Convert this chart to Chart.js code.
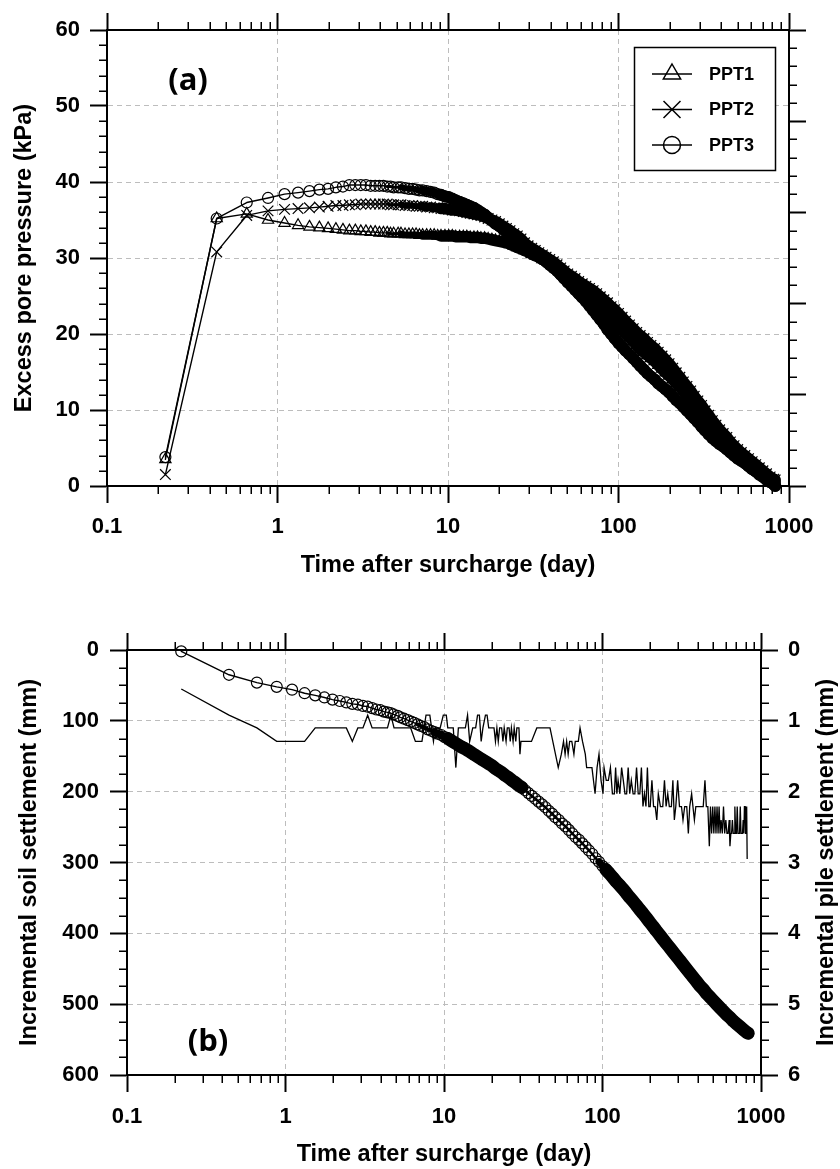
<!DOCTYPE html>
<html>
<head>
<meta charset="utf-8">
<script src="https://cdn.jsdelivr.net/npm/chart.js@4.4.1/dist/chart.umd.min.js"></script>
<style>
  html, body { margin: 0; padding: 0; background: #fff; }
  #wrap { position: relative; width: 840px; height: 1169px; }
  canvas { position: absolute; left: 0; }
  #pressure { top: 0; }
  #settlement { top: 590px; }
</style>
</head>
<body>
<div id="wrap">
  <canvas id="pressure" width="840" height="590"></canvas>
  <canvas id="settlement" width="840" height="579"></canvas>
</div>
<script>
// time after surcharge (day), shared by the pore pressure and soil settlement records
const days = [
  0.22, 0.44, 0.66, 0.88, 1.1, 1.32, 1.54, 1.76, 1.98, 2.2,
  2.42, 2.64, 2.86, 3.08, 3.3, 3.52, 3.74, 3.96, 4.18, 4.4,
  4.6, 4.8, 5.1, 5.3, 5.6, 5.9, 6.2, 6.5, 6.8, 7.1,
  7.5, 7.9, 8.3, 8.7, 9.1, 9.6, 10.1, 10.6, 11.1, 11.7,
  12.3, 12.9, 13.5, 14.2, 14.9, 15.6, 16.4, 17.2, 18.1, 19.0,
  20, 21, 22, 23.1, 24.3, 25.5, 26.8, 28.1, 29.5, 31,
  32.5, 34.1, 35.8, 37.6, 39.5, 41.5, 43.6, 45.8, 48, 50.4,
  53, 55.6, 58.4, 61.3, 64.4, 67.6, 71, 74.5, 78.2, 82.1,
  86.2, 90.5, 95, 100, 105, 110, 116, 122, 128, 134,
  141, 148, 155, 163, 171, 180, 189, 198, 208, 218,
  229, 240, 252, 265, 278, 292, 307, 322, 338, 355,
  373, 392, 411, 432, 453, 476, 500, 525, 551, 579,
  608, 638, 670, 703, 738, 775, 814, 830
];

// excess pore pressure (kPa)
const ppt1 = [
  3.5, 35.2, 35.8, 35.0, 34.6, 34.3, 34.1, 34.0, 33.9, 33.8,
  33.7, 33.6, 33.6, 33.5, 33.5, 33.4, 33.4, 33.3, 33.3, 33.3,
  33.2, 33.2, 33.2, 33.2, 33.1, 33.1, 33.1, 33.1, 33.0, 33.0,
  33.0, 33.0, 33.0, 32.9, 32.9, 32.9, 32.9, 32.9, 32.8, 32.8,
  32.8, 32.8, 32.7, 32.7, 32.7, 32.6, 32.6, 32.5, 32.4, 32.3,
  32.2, 32.1, 32.0, 31.8, 31.6, 31.4, 31.2, 31.0, 30.8, 30.5,
  30.3, 30.1, 29.8, 29.6, 29.3, 29.0, 28.6, 28.2, 27.8, 27.4,
  27.0, 26.6, 26.2, 25.8, 25.4, 25.0, 24.6, 24.1, 23.6, 23.1,
  22.6, 22.1, 21.6, 21.0, 20.5, 20.0, 19.5, 19.0, 18.5, 18.0,
  17.6, 17.2, 16.8, 16.4, 15.9, 15.4, 14.9, 14.5, 14.0, 13.5,
  13.0, 12.5, 11.9, 11.4, 10.8, 10.3, 9.7, 9.1, 8.6, 8.0,
  7.5, 6.9, 6.5, 6.0, 5.5, 5.0, 4.5, 4.1, 3.7, 3.3,
  2.9, 2.5, 2.1, 1.7, 1.3, 1.0, 0.7, 0.5
];
const ppt2 = [
  1.5, 30.8, 35.6, 36.2, 36.4, 36.5, 36.6, 36.7, 36.8, 36.9,
  36.9, 37.0, 37.0, 37.1, 37.1, 37.1, 37.1, 37.1, 37.1, 37.1,
  37.0, 37.0, 37.0, 37.0, 36.9, 36.9, 36.9, 36.8, 36.8, 36.8,
  36.7, 36.7, 36.6, 36.6, 36.5, 36.5, 36.4, 36.3, 36.3, 36.2,
  36.1, 36.0, 35.9, 35.8, 35.7, 35.6, 35.4, 35.2, 35.0, 34.8,
  34.5, 34.2, 33.9, 33.6, 33.2, 32.9, 32.5, 32.0, 31.6, 31.3,
  31.0, 30.7, 30.4, 30.1, 29.8, 29.5, 29.1, 28.7, 28.3, 27.9,
  27.6, 27.3, 26.9, 26.6, 26.3, 26.0, 25.7, 25.3, 24.9, 24.5,
  24.1, 23.6, 23.2, 22.7, 22.2, 21.7, 21.2, 20.7, 20.2, 19.8,
  19.4, 18.9, 18.5, 18.1, 17.6, 17.1, 16.6, 16.1, 15.5, 14.9,
  14.3, 13.7, 13.1, 12.5, 11.8, 11.2, 10.6, 9.9, 9.3, 8.6,
  8.0, 7.4, 6.9, 6.4, 5.8, 5.3, 4.8, 4.4, 4.0, 3.6,
  3.2, 2.8, 2.4, 2.0, 1.6, 1.2, 0.9, 0.8
];
const ppt3 = [
  3.8, 35.2, 37.3, 37.9, 38.4, 38.6, 38.8, 39.0, 39.1, 39.3,
  39.4, 39.6, 39.6, 39.6, 39.6, 39.5, 39.5, 39.5, 39.5, 39.4,
  39.4, 39.3, 39.3, 39.3, 39.2, 39.1, 39.1, 39.0, 38.9, 38.9,
  38.8, 38.7, 38.6, 38.4, 38.3, 38.1, 38.0, 37.8, 37.6, 37.4,
  37.2, 37.0, 36.8, 36.6, 36.3, 36.0, 35.7, 35.3, 34.9, 34.5,
  34.2, 33.8, 33.4, 33.0, 32.7, 32.3, 32.0, 31.7, 31.3, 31.0,
  30.7, 30.3, 29.9, 29.5, 29.1, 28.7, 28.3, 27.8, 27.3, 26.8,
  26.3, 25.8, 25.3, 24.8, 24.3, 23.7, 23.1, 22.5, 21.9, 21.3,
  20.6, 20.0, 19.4, 18.8, 18.3, 17.8, 17.3, 16.8, 16.3, 15.8,
  15.3, 14.8, 14.4, 14.0, 13.5, 13.1, 12.7, 12.3, 11.8, 11.3,
  10.9, 10.4, 9.9, 9.4, 8.9, 8.4, 7.8, 7.3, 6.8, 6.3,
  5.9, 5.5, 5.2, 4.8, 4.4, 4.0, 3.6, 3.3, 3.0, 2.6,
  2.2, 1.9, 1.5, 1.2, 0.8, 0.5, 0.2, 0.0
];

// incremental soil settlement (mm)
const soilMm = [
  2, 35, 46, 52, 56, 61, 64, 67, 70, 72,
  74, 76, 77, 79, 80, 82, 84, 85, 87, 88,
  89, 91, 93, 95, 97, 99, 101, 103, 105, 107,
  109, 112, 114, 116, 118, 120, 123, 125, 128, 131,
  134, 137, 139, 142, 145, 148, 151, 154, 157, 160,
  163, 167, 170, 173, 177, 180, 184, 187, 191, 194,
  198, 202, 206, 210, 214, 218, 222, 227, 231, 236,
  240, 245, 249, 254, 259, 264, 268, 273, 278, 283,
  288, 294, 299, 305, 310, 315, 321, 327, 332, 337,
  343, 349, 354, 360, 366, 372, 378, 384, 390, 396,
  402, 408, 414, 420, 426, 432, 438, 444, 450, 456,
  462, 468, 474, 479, 485, 490, 495, 500, 505, 510,
  515, 519, 524, 528, 532, 536, 540, 541
];

// incremental pile settlement (mm)
const pileDays = [
  0.22, 0.44, 0.66, 0.88, 1.32, 1.54, 2.42, 2.64, 2.86, 3.08,
  3.3, 3.52, 4.4, 4.62, 4.84, 6.16, 6.6, 7.26, 7.7, 8.14,
  8.58, 8.8, 9.46, 9.9, 10.34, 10.56, 11.44, 11.88, 12.32, 13.64,
  14.08, 14.52, 15.18, 15.84, 16.28, 16.72, 17.16, 17.6, 18.26, 18.7,
  19.14, 20.68, 21.12, 21.56, 22.0, 22.44, 23.1, 23.54, 23.98, 24.64,
  25.08, 25.74, 26.18, 26.62, 27.28, 27.72, 28.38, 28.82, 29.7, 30.14,
  30.58, 35.64, 38.5, 46.64, 52.58, 55.0, 56.76, 58.08, 59.4, 60.72,
  62.04, 64.02, 66.0, 67.32, 70.4, 72.16, 74.8, 77.88, 79.42, 85.8,
  89.76, 92.4, 95.04, 97.9, 100.76, 102.3, 105.6, 108.9, 112.2, 115.5,
  118.8, 121.0, 123.2, 125.4, 128.7, 132.0, 135.3, 138.6, 142.0, 145.2,
  148.5, 152, 156, 160, 164, 168, 172, 176, 180, 184,
  188, 192, 196, 200, 205, 210, 215, 220, 225, 232,
  240, 246, 252, 258, 264, 272, 278, 284, 290, 298,
  306, 315, 322, 330, 340, 348, 355, 365, 372, 380,
  388, 400, 410, 420, 432, 443, 452, 462, 472, 480,
  488, 496, 504, 512, 520, 528, 536, 544, 552, 560,
  570, 580, 590, 600, 610, 620, 630, 637, 645, 652,
  660, 668, 676, 684, 692, 700, 708, 716, 724, 732,
  740, 748, 756, 764, 772, 780, 786, 794, 800, 806,
  812, 818
];
const pileMm = [
  0.55, 0.92, 1.10, 1.29, 1.29, 1.10, 1.10, 1.29, 1.10, 1.10,
  0.92, 1.10, 1.10, 0.92, 1.10, 1.10, 1.29, 1.29, 0.92, 0.92,
  1.29, 1.10, 1.10, 0.92, 0.92, 1.10, 1.10, 1.66, 1.10, 1.10,
  0.92, 1.29, 1.10, 1.10, 0.92, 0.92, 1.29, 1.10, 0.92, 0.92,
  1.10, 1.10, 1.29, 1.10, 1.29, 1.10, 1.10, 1.29, 1.10, 1.29,
  1.10, 1.10, 1.29, 1.10, 1.29, 1.10, 1.29, 1.10, 1.10, 1.47,
  1.29, 1.29, 1.10, 1.10, 1.66, 1.47, 1.29, 1.47, 1.29, 1.47,
  1.29, 1.29, 1.47, 1.29, 1.29, 1.10, 1.29, 1.47, 1.66, 1.66,
  2.03, 1.66, 1.47, 1.84, 2.03, 1.66, 1.84, 1.84, 1.66, 2.03,
  2.03, 1.66, 2.03, 1.84, 2.03, 1.66, 1.84, 2.03, 2.03, 1.66,
  2.03, 1.84, 2.03, 2.03, 1.66, 2.03, 2.03, 1.66, 2.21, 2.03,
  2.21, 1.66, 2.21, 2.21, 1.84, 2.21, 2.21, 2.40, 2.03, 2.21,
  2.21, 1.84, 2.21, 2.03, 2.21, 2.21, 1.84, 2.40, 2.21, 1.84,
  2.21, 2.21, 2.40, 2.21, 2.21, 2.59, 2.21, 2.03, 2.21, 2.40,
  2.21, 2.21, 2.21, 2.21, 2.21, 1.84, 2.21, 2.21, 2.77, 2.21,
  2.59, 2.21, 2.59, 2.21, 2.59, 2.21, 2.59, 2.21, 2.59, 2.40,
  2.59, 2.21, 2.59, 2.40, 2.59, 2.59, 2.40, 2.77, 2.59, 2.59,
  2.40, 2.59, 2.59, 2.21, 2.59, 2.59, 2.21, 2.59, 2.59, 2.59,
  2.21, 2.59, 2.59, 2.59, 2.40, 2.59, 2.21, 2.21, 2.59, 2.59,
  2.21, 2.95
];

// axis ticks
const xMajor = [0.1, 1, 10, 100, 1000];
const xTickLabels = ['0.1', '1', '10', '100', '1000'];
const pressureTicks = [0, 10, 20, 30, 40, 50, 60];
const pressureRightTicks = [0, 1, 2, 3, 4, 5];
const soilTicks = [0, 100, 200, 300, 400, 500, 600];
const pileTicks = [0, 1, 2, 3, 4, 5, 6];

const xMinor = [];
[0.1, 1, 10, 100].forEach((d) => {
  for (let k = 2; k <= 9; k++) xMinor.push(+(d * k).toPrecision(3));
});
function minorSteps(count, step, every) {
  const out = [];
  for (let i = 1; i < count; i++) if (i % every) out.push(+(i * step).toFixed(3));
  return out;
}

Chart.defaults.font.family = "'Liberation Sans', Arial, Helvetica, sans-serif";
Chart.defaults.font.weight = 'bold';
Chart.defaults.color = '#000';

const tickFont = { size: 22, weight: 'bold' };
const titleFont = { size: 23.5, weight: 'bold' };
const axisBorder = { display: true, color: '#000', width: 2, dash: [5, 4] };

function gridFor(edges, onArea) {
  return {
    drawOnChartArea: onArea,
    color: (c) => (c.tick && edges.indexOf(c.tick.value) >= 0) ? 'rgba(0,0,0,0)' : '#bdbdbd',
    lineWidth: 1,
    drawTicks: true,
    tickLength: 17,
    tickColor: '#000',
    tickWidth: 2,
    tickBorderDash: []
  };
}

function fixedTicks(values) {
  return (scale) => { scale.ticks = values.map((v) => ({ value: v })); };
}

function timeAxis(position, size, labelPad, titlePad) {
  const bottom = position === 'bottom';
  return {
    type: 'logarithmic',
    position: position,
    min: 0.1,
    max: 1000,
    afterBuildTicks: fixedTicks(xMajor),
    afterFit: (s) => { s.height = size; },
    ticks: {
      display: bottom, font: tickFont, padding: labelPad,
      autoSkip: false, maxRotation: 0, minRotation: 0,
      callback: (v, i) => xTickLabels[i]
    },
    title: {
      display: bottom, text: 'Time after surcharge (day)', font: titleFont,
      padding: { top: 0, bottom: titlePad }
    },
    grid: gridFor([0.1, 1000], bottom),
    border: axisBorder
  };
}

function series(xs, ys) {
  return xs.map((x, i) => ({ x: x, y: ys[i] }));
}

// where the logger sampled so densely that the markers merge into a solid band
function bandWidth(steps) {
  return (ctx) => {
    const t = ctx.p0.parsed.x;
    let w = 1.4;
    steps.forEach((s) => { if (t >= s[0]) w = s[1]; });
    return w;
  };
}

function minorTicks(spec) {
  return {
    id: 'minorTicks',
    afterDraw(chart) {
      const ctx = chart.ctx;
      ctx.save();
      ctx.strokeStyle = '#000';
      ctx.lineWidth = 1.5;
      ctx.beginPath();
      Object.keys(spec).forEach((id) => {
        const s = chart.scales[id];
        spec[id].forEach((v) => {
          const p = Math.round(s.getPixelForValue(v)) + 0.25;
          if (s.position === 'bottom') { ctx.moveTo(p, s.top); ctx.lineTo(p, s.top + 8); }
          else if (s.position === 'top') { ctx.moveTo(p, s.bottom); ctx.lineTo(p, s.bottom - 8); }
          else if (s.position === 'left') { ctx.moveTo(s.right, p); ctx.lineTo(s.right - 8, p); }
          else { ctx.moveTo(s.left, p); ctx.lineTo(s.left + 8, p); }
        });
      });
      ctx.stroke();
      ctx.restore();
    }
  };
}

function panelLabel(text, x, y) {
  return {
    id: 'panelLabel',
    afterDraw(chart) {
      const ctx = chart.ctx;
      ctx.save();
      ctx.font = "bold 31px 'Open Sans', 'Liberation Sans', sans-serif";
      ctx.fillStyle = '#000';
      ctx.textAlign = 'center';
      ctx.textBaseline = 'middle';
      ctx.fillText(text, x, y);
      ctx.restore();
    }
  };
}

function drawMarker(ctx, style, x, y, r) {
  ctx.beginPath();
  if (style === 'circle') {
    ctx.arc(x, y, r, 0, Math.PI * 2);
  } else if (style === 'triangle') {
    ctx.moveTo(x, y - r);
    ctx.lineTo(x + r * 0.866, y + r * 0.5);
    ctx.lineTo(x - r * 0.866, y + r * 0.5);
    ctx.closePath();
  } else {
    const d = r * 0.707;
    ctx.moveTo(x - d, y - d); ctx.lineTo(x + d, y + d);
    ctx.moveTo(x + d, y - d); ctx.lineTo(x - d, y + d);
  }
  ctx.stroke();
}

const legendBox = {
  id: 'legendBox',
  afterDraw(chart) {
    const ctx = chart.ctx;
    const entries = [['PPT1', 'triangle', 10], ['PPT2', 'crossRot', 12], ['PPT3', 'circle', 8.5]];
    ctx.save();
    ctx.fillStyle = '#fff';
    ctx.fillRect(634, 47, 142, 124);
    ctx.strokeStyle = '#000';
    ctx.lineWidth = 1.5;
    ctx.strokeRect(634.5, 47.5, 141, 123);
    ctx.font = "bold 18px 'Liberation Sans', Arial, sans-serif";
    ctx.fillStyle = '#000';
    ctx.textAlign = 'left';
    ctx.textBaseline = 'middle';
    entries.forEach((e, i) => {
      const y = 74 + i * 35.5;
      ctx.beginPath();
      ctx.moveTo(652, y); ctx.lineTo(692, y);
      ctx.stroke();
      drawMarker(ctx, e[1], 672, y, e[2]);
      ctx.fillText(e[0], 709, y + 1);
    });
    ctx.restore();
  }
};

const rightTitle = {
  id: 'rightTitle',
  afterDraw(chart) {
    const ctx = chart.ctx;
    const a = chart.chartArea;
    ctx.save();
    ctx.translate(827, (a.top + a.bottom) / 2);
    ctx.rotate(-Math.PI / 2);
    ctx.font = "bold 23.5px 'Liberation Sans', Arial, sans-serif";
    ctx.fillStyle = '#000';
    ctx.textAlign = 'center';
    ctx.textBaseline = 'middle';
    ctx.fillText('Incremental pile settlement (mm)', 0, 0);
    ctx.restore();
  }
};

function markerSet(style, radius, bands) {
  return {
    borderColor: '#000', borderWidth: 1.4,
    borderCapStyle: 'round', borderJoinStyle: 'round',
    segment: { borderWidth: bandWidth(bands) },
    pointStyle: style, pointRadius: radius, pointBorderWidth: 1.2,
    pointBorderColor: '#000', pointBackgroundColor: 'rgba(0,0,0,0)',
    tension: 0, clip: false
  };
}

const pressureBands = [[4.4, 3], [5.3, 6], [7.1, 9], [9.1, 11.5]];
const soilBands = [[6.8, 4], [8.7, 8], [10.6, 13], [31, 2.5], [95, 7], [105, 13]];

new Chart(document.getElementById('pressure'), {
  type: 'line',
  data: {
    datasets: [
      Object.assign({ label: 'PPT1', data: series(days, ppt1), xAxisID: 'x', yAxisID: 'y' }, markerSet('triangle', 6.5, pressureBands)),
      Object.assign({ label: 'PPT2', data: series(days, ppt2), xAxisID: 'x', yAxisID: 'y' }, markerSet('crossRot', 7.5, pressureBands)),
      Object.assign({ label: 'PPT3', data: series(days, ppt3), xAxisID: 'x', yAxisID: 'y' }, markerSet('circle', 5.5, pressureBands))
    ]
  },
  options: {
    responsive: false,
    animation: false,
    events: [],
    layout: { padding: 0 },
    plugins: { legend: { display: false }, tooltip: { enabled: false } },
    scales: {
      x: timeAxis('bottom', 104, 11, 10),
      xTop: timeAxis('top', 30, 0, 0),
      y: {
        type: 'linear', position: 'left', min: 0, max: 60,
        afterBuildTicks: fixedTicks(pressureTicks),
        afterFit: (s) => { s.width = 107; },
        ticks: { font: tickFont, padding: 10, callback: (v) => String(v) },
        title: { display: true, text: 'Excess pore pressure (kPa)', font: titleFont, padding: { top: 10, bottom: 0 } },
        grid: gridFor([0, 60], true),
        border: axisBorder
      },
      yRight: {
        type: 'linear', position: 'right', min: 0, max: 5,
        afterBuildTicks: fixedTicks(pressureRightTicks),
        afterFit: (s) => { s.width = 51; },
        ticks: { display: false },
        grid: gridFor([], false),
        border: axisBorder
      }
    }
  },
  plugins: [
    minorTicks({ x: xMinor, xTop: xMinor, y: minorSteps(30, 2, 5), yRight: minorSteps(25, 0.2, 5) }),
    legendBox,
    panelLabel('(a)', 188, 81)
  ]
});

new Chart(document.getElementById('settlement'), {
  type: 'line',
  data: {
    datasets: [
      Object.assign({ label: 'Soil settlement', data: series(days, soilMm), xAxisID: 'x', yAxisID: 'y' }, markerSet('circle', 5.5, soilBands)),
      {
        label: 'Pile settlement', data: series(pileDays, pileMm), xAxisID: 'x', yAxisID: 'y2',
        borderColor: '#000', borderWidth: 1.3, pointRadius: 0, tension: 0, clip: false
      }
    ]
  },
  options: {
    responsive: false,
    animation: false,
    events: [],
    layout: { padding: 0 },
    plugins: { legend: { display: false }, tooltip: { enabled: false } },
    scales: {
      x: timeAxis('bottom', 94, 12, 0),
      xTop: timeAxis('top', 60, 0, 0),
      y: {
        type: 'linear', position: 'left', min: 0, max: 600, reverse: true,
        afterBuildTicks: fixedTicks(soilTicks),
        afterFit: (s) => { s.width = 127; },
        ticks: { font: tickFont, padding: 11, callback: (v) => String(v) },
        title: { display: true, text: 'Incremental soil settlement (mm)', font: titleFont, padding: { top: 15, bottom: 0 } },
        grid: gridFor([0, 600], true),
        border: axisBorder
      },
      y2: {
        type: 'linear', position: 'right', min: 0, max: 6, reverse: true,
        afterBuildTicks: fixedTicks(pileTicks),
        afterFit: (s) => { s.width = 79; },
        ticks: { font: tickFont, padding: 10, callback: (v) => String(v) },
        grid: gridFor([], false),
        border: axisBorder
      }
    }
  },
  plugins: [
    minorTicks({ x: xMinor, xTop: xMinor, y: minorSteps(24, 25, 4), y2: minorSteps(24, 0.25, 4) }),
    rightTitle,
    panelLabel('(b)', 208, 452)
  ]
});
</script>
</body>
</html>
